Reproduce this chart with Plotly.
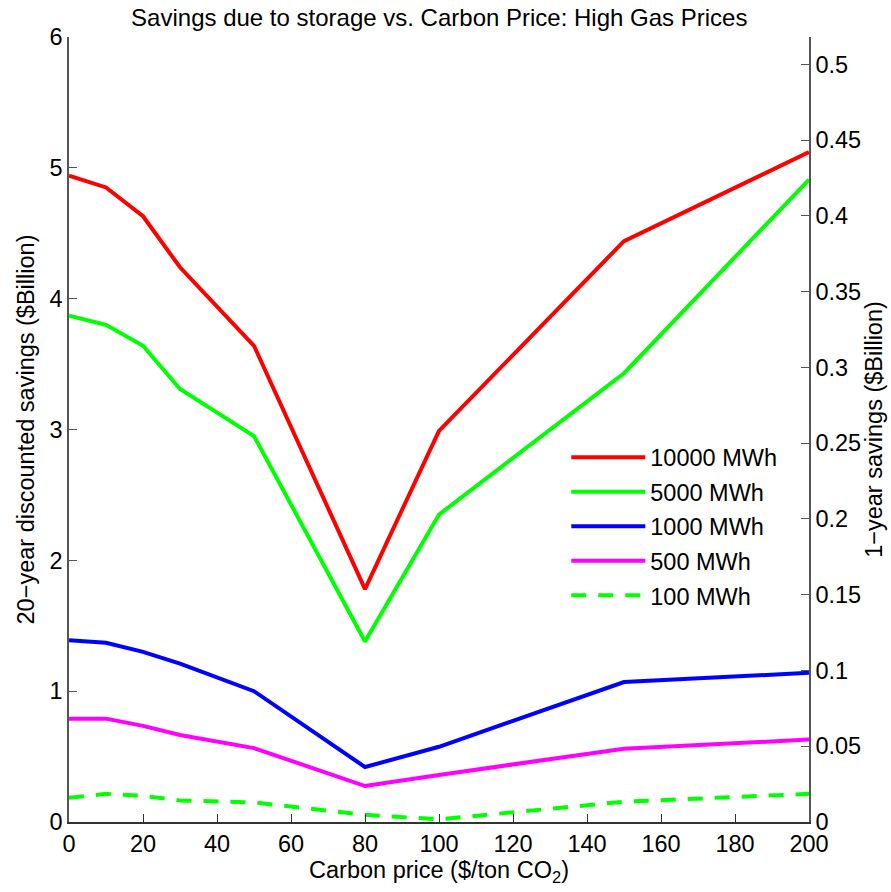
import plotly.graph_objects as go

carbon_price = [0, 10, 20, 30, 50, 80, 100, 150, 200]
s10000 = [4.94, 4.85, 4.63, 4.24, 3.64, 1.78, 2.99, 4.44, 5.12]
s5000 = [3.87, 3.80, 3.64, 3.31, 2.95, 1.38, 2.35, 3.43, 4.91]
s1000 = [1.39, 1.37, 1.30, 1.21, 1.00, 0.42, 0.575, 1.07, 1.14]
s500 = [0.79, 0.79, 0.735, 0.665, 0.565, 0.275, 0.36, 0.56, 0.63]
s100 = [0.185, 0.215, 0.20, 0.165, 0.15, 0.055, 0.02, 0.155, 0.215]

x_ticks = list(range(0, 201, 20))
y_ticks = [0, 1, 2, 3, 4, 5, 6]
y2_ticks = [0, 0.05, 0.1, 0.15, 0.2, 0.25, 0.3, 0.35, 0.4, 0.45, 0.5]
y2_labels = ["0", "0.05", "0.1", "0.15", "0.2", "0.25", "0.3", "0.35", "0.4", "0.45", "0.5"]

FONT = "Liberation Sans, Arial, sans-serif"
FS = 23.5

series = [
    ("10000 MWh", s10000, "#ff0000", "solid"),
    ("5000 MWh", s5000, "#00ff00", "solid"),
    ("1000 MWh", s1000, "#0000ff", "solid"),
    ("500 MWh", s500, "#ff00ff", "solid"),
    ("100 MWh", s100, "#00ff00", "15px,12px"),
]

fig = go.Figure()
for i, (name, vals, color, dash) in enumerate(series):
    fig.add_trace(go.Scatter(
        x=carbon_price, y=vals, mode="lines", name=name,
        legendgroup=f"g{i}",
        line=dict(color=color, width=4, dash=dash),
    ))

# empty trace so the right-hand (1-year savings) axis is drawn
fig.add_trace(go.Scatter(x=carbon_price[:1], y=[None], yaxis="y2",
                         mode="lines", showlegend=False, hoverinfo="skip"))

fig.update_layout(
    width=891, height=892,
    margin=dict(l=69, r=82, t=37, b=70),
    paper_bgcolor="white", plot_bgcolor="white",
    font=dict(family=FONT, size=FS, color="black"),
    title=dict(text="Savings due to storage vs. Carbon Price: High Gas Prices",
               x=0.493, xanchor="center", y=0.98, yanchor="middle",
               font=dict(family=FONT, size=24, color="black")),
    showlegend=True,
    legend=dict(x=0.672, y=0.4925, xanchor="left", yanchor="top",
                bgcolor="rgba(0,0,0,0)", borderwidth=0,
                font=dict(family=FONT, size=FS, color="black"),
                itemwidth=74, tracegroupgap=1),
    xaxis=dict(range=[0, 200], tickvals=x_ticks, ticks="inside", ticklen=8,
               showline=True, linecolor="#333", linewidth=1.5, tickcolor="#333",
               showgrid=False, zeroline=False, mirror=False, automargin=False,
               tickfont=dict(size=FS),
               title=dict(text="Carbon price ($/ton CO<sub>2</sub>)", standoff=4,
                          font=dict(size=FS))),
    yaxis=dict(range=[0, 6], tickvals=y_ticks, ticks="inside", ticklen=8,
               showline=True, linecolor="#555", linewidth=1.5, tickcolor="#555",
               showgrid=False, zeroline=False, automargin=False,
               tickfont=dict(size=FS),
               title=dict(text="20\u2212year discounted savings ($Billion)", standoff=8,
                          font=dict(size=FS))),
    yaxis2=dict(range=[0, 0.518], overlaying="y", side="right",
                tickvals=y2_ticks, ticktext=y2_labels, ticks="inside", ticklen=8,
                showline=True, linecolor="#555", linewidth=1.5, tickcolor="#555",
                showgrid=False, zeroline=False, automargin=False,
                tickfont=dict(size=FS),
                title=dict(text="1\u2212year savings ($Billion)", standoff=5,
                           font=dict(size=FS))),
)

fig.write_html("out.html")
